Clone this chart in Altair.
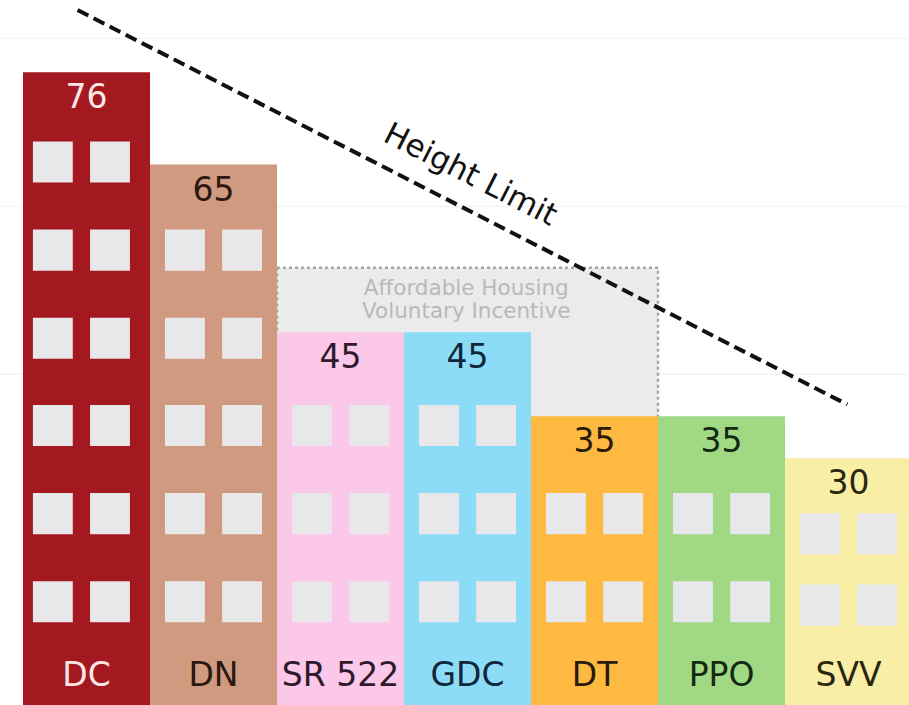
import altair as alt
import pandas as pd

# ---- data ----
categories = ["DC", "DN", "SR 522", "GDC", "DT", "PPO", "SVV"]
heights = [76, 65, 45, 45, 35, 35, 30]
bar_colors = ["#a3191f", "#cf9a80", "#fcc8ea", "#8ddcf7", "#fdb940", "#a0d884", "#f8eea6"]
label_colors = ["#fbe8e4", "#2b1810", "#2e1a2a", "#10263a", "#2a1a08", "#132a10", "#2a2610"]
# floor (window row) levels per building, in height units
window_floors = [
    [65.3, 54.8, 44.3, 33.9, 23.4, 12.9],
    [54.8, 44.3, 33.9, 23.4, 12.9],
    [33.9, 23.4, 12.9],
    [33.9, 23.4, 12.9],
    [23.4, 12.9],
    [23.4, 12.9],
    [21.0, 12.5],
]
grid_values = [40, 60, 80]
incentive_first = "SR 522"
incentive_last = "DT"
incentive_top = 52.7
incentive_lines = ["Affordable Housing", "Voluntary Incentive"]
limit_start = (0.43, 83.4)
limit_end = (6.49, 36.4)
limit_label = "Height Limit"

FONT = "DejaVu Sans"

# ---- tables ----
bars = pd.DataFrame({
    "cat": categories,
    "h": heights,
    "color": bar_colors,
    "lcolor": label_colors,
})
bars["i"] = range(len(categories))
bars["x0"] = bars["i"]
bars["x1"] = bars["i"] + 1
bars["xc"] = bars["i"] + 0.5
bars["zero"] = 0

win_rows = []
for i, floors in enumerate(window_floors):
    shift = -0.04 if i == 0 else 0.0
    for f in floors:
        for side in (-1, 1):
            c = i + 0.5 + side * 0.225 + shift
            win_rows.append({"wx0": c - 0.157, "wx1": c + 0.157, "wy0": f - 2.45, "wy1": f + 2.45})
wins = pd.DataFrame(win_rows)

i0 = categories.index(incentive_first)
i1 = categories.index(incentive_last) + 1
box = pd.DataFrame({"bx0": [i0], "bx1": [i1], "by0": [0], "by1": [incentive_top]})
box_text = pd.DataFrame({"tx": [(i0 + i1) / 2 - 0.01], "ty": [incentive_top], "txt": [incentive_lines]})

limit = pd.DataFrame({"lx": [limit_start[0], limit_end[0]], "ly": [limit_start[1], limit_end[1]]})
limit_text = pd.DataFrame({"tx": [3.52], "ty": [63.7], "txt": [limit_label]})

grid = pd.DataFrame({"g": grid_values})

xs = alt.Scale(domain=[-0.181, 6.976], nice=False, zero=False)
ys = alt.Scale(domain=[0.6, 84.6], nice=False, zero=False)

gridl = alt.Chart(grid).mark_rule(color="#f3f3f3", strokeWidth=1.5).encode(
    y=alt.Y("g:Q", scale=ys, axis=None),
    x=alt.value(0), x2=alt.value(909),
)

boxl = alt.Chart(box).mark_rect(
    fill="#ebebeb", stroke="#a5a5a5", strokeDash=[3, 3], strokeWidth=2.5, clip=True
).encode(
    x=alt.X("bx0:Q", scale=xs, axis=None), x2="bx1:Q",
    y=alt.Y("by1:Q", scale=ys, axis=None), y2="by0:Q",
)

boxt = alt.Chart(box_text).mark_text(
    font=FONT, fontSize=21.5, color="#b9b9b9", baseline="middle", align="center",
    dy=21, lineHeight=23.5
).encode(
    x=alt.X("tx:Q", scale=xs, axis=None),
    y=alt.Y("ty:Q", scale=ys, axis=None),
    text="txt",
)

barl = alt.Chart(bars).mark_rect(clip=True).encode(
    x=alt.X("x0:Q", scale=xs, axis=None), x2="x1:Q",
    y=alt.Y("h:Q", scale=ys, axis=None), y2="zero:Q",
    color=alt.Color("color:N", scale=None),
)

winl = alt.Chart(wins).mark_rect(color="#e8e7ea", clip=True).encode(
    x=alt.X("wx0:Q", scale=xs, axis=None), x2="wx1:Q",
    y=alt.Y("wy1:Q", scale=ys, axis=None), y2="wy0:Q",
)

vall = alt.Chart(bars).mark_text(
    font=FONT, fontSize=33, baseline="middle", align="center", dy=26
).encode(
    x=alt.X("xc:Q", scale=xs, axis=None),
    y=alt.Y("h:Q", scale=ys, axis=None),
    text=alt.Text("h:Q"),
    color=alt.Color("lcolor:N", scale=None),
)

catl = alt.Chart(bars).mark_text(
    font=FONT, fontSize=33, baseline="middle", align="center"
).encode(
    x=alt.X("xc:Q", scale=xs, axis=None),
    y=alt.value(676),
    text="cat:N",
    color=alt.Color("lcolor:N", scale=None),
)

linel = alt.Chart(limit).mark_line(
    color="#111111", strokeWidth=4, strokeDash=[12, 6], clip=True
).encode(
    x=alt.X("lx:Q", scale=xs, axis=None),
    y=alt.Y("ly:Q", scale=ys, axis=None),
)

limt = alt.Chart(limit_text).mark_text(
    font=FONT, fontSize=31, color="#111111", angle=27, baseline="middle", align="center"
).encode(
    x=alt.X("tx:Q", scale=xs, axis=None),
    y=alt.Y("ty:Q", scale=ys, axis=None),
    text="txt:N",
)

chart = alt.layer(gridl, boxl, boxt, barl, winl, vall, catl, linel, limt).properties(
    width=909, height=705, padding=0,
    autosize=alt.AutoSizeParams(type="none"),
    background="white",
).configure_view(stroke=None)

chart.save("out.html", embed_options={"renderer": "svg", "actions": False})
